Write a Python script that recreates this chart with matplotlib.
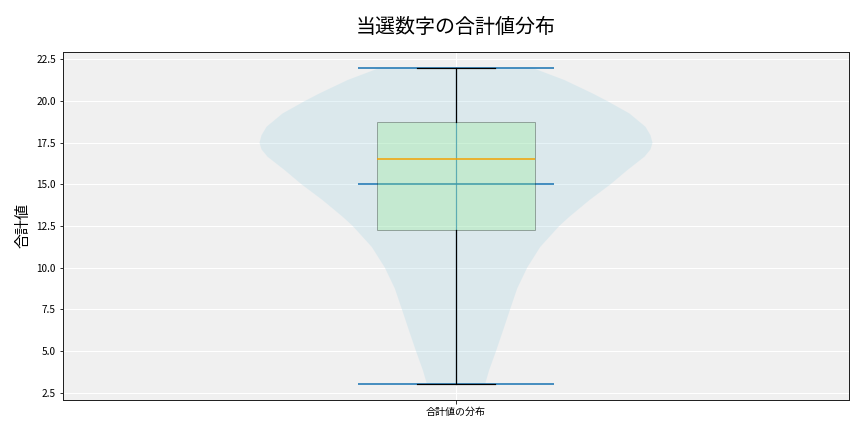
import matplotlib
matplotlib.use("Agg")
import matplotlib.pyplot as plt
import numpy as np

plt.rcParams['font.family'] = ['Noto Sans CJK JP', 'DejaVu Sans']

title = "当選数字の合計値分布"
ylabel = "合計値"
xlabel_tick = "合計値の分布"

# violin outline: value levels and relative half-widths
violin_y = [3.0, 3.83, 5.0, 6.24, 7.5, 8.74, 10.0, 11.24, 12.5, 13.05, 14.05,
            15.0, 15.86, 16.66, 17.1, 17.5, 17.95, 18.46, 19.26, 20.0, 20.47,
            21.27, 22.0]
violin_w = [29, 33, 40, 47, 54, 61, 71, 84, 103, 113, 133,
            154, 171, 188, 194, 196, 194, 189, 173, 151, 136,
            108, 76]
v_mean = 15.0
v_median = 16.5
v_min = 3.0
v_max = 22.0

# box plot statistics
box_q1 = 12.25
box_med = 16.5
box_q3 = 18.72
box_lo = 3.0
box_hi = 22.0

fig = plt.figure(figsize=(12, 6), dpi=72)
ax = fig.add_axes([63/864, 32/432, 786/864, 348/432])
ax.set_facecolor('#f0f0f0')
ax.grid(True, color='white', linewidth=1.0)
ax.set_axisbelow(True)

vpstats = [dict(coords=np.array(violin_y), vals=np.array(violin_w, dtype=float),
                mean=v_mean, median=v_median, min=v_min, max=v_max)]
parts = ax.violin(vpstats, positions=[1], widths=0.5, showmeans=True,
                  showextrema=True, showmedians=False)
for b in parts['bodies']:
    b.set_facecolor('#add8e6')
    b.set_edgecolor('none')
    b.set_alpha(0.3)
for key in ('cmeans', 'cmins', 'cmaxes', 'cbars'):
    parts[key].set_color('#1f77b4')
    parts[key].set_alpha(0.8)
for key in ('cmeans', 'cmins', 'cmaxes'):
    parts[key].set_linewidth(2)
parts['cbars'].set_linewidth(1.2)

bstats = [dict(med=box_med, q1=box_q1, q3=box_q3, whislo=box_lo, whishi=box_hi,
               fliers=[], label=xlabel_tick)]
bp = ax.bxp(bstats, positions=[1], widths=0.2, patch_artist=True, showfliers=False)
for patch in bp['boxes']:
    patch.set_facecolor('#90ee90')
    patch.set_edgecolor('black')
    patch.set_alpha(0.3)
for w in bp['whiskers']:
    w.set_color('black')
    w.set_linewidth(1.2)
for c in bp['caps']:
    c.set_color('black')
    c.set_linewidth(1.2)
for m in bp['medians']:
    m.set_color('#f5a000')
    m.set_linewidth(1.5)
    m.set_alpha(1.0)
    m.set_zorder(6)

ax.set_xlim(0.5, 1.5)
ax.set_ylim(2.05, 22.95)
ax.set_yticks([2.5, 5.0, 7.5, 10.0, 12.5, 15.0, 17.5, 20.0, 22.5])
ax.set_xticks([1])
ax.set_xticklabels([xlabel_tick])
ax.tick_params(labelsize=10)
ax.set_ylabel(ylabel, fontsize=15, labelpad=6)
ax.set_title(title, fontsize=20, pad=19)
for s in ax.spines.values():
    s.set_color('#222222')
    s.set_linewidth(1.0)

fig.savefig('out.png', dpi=72)
